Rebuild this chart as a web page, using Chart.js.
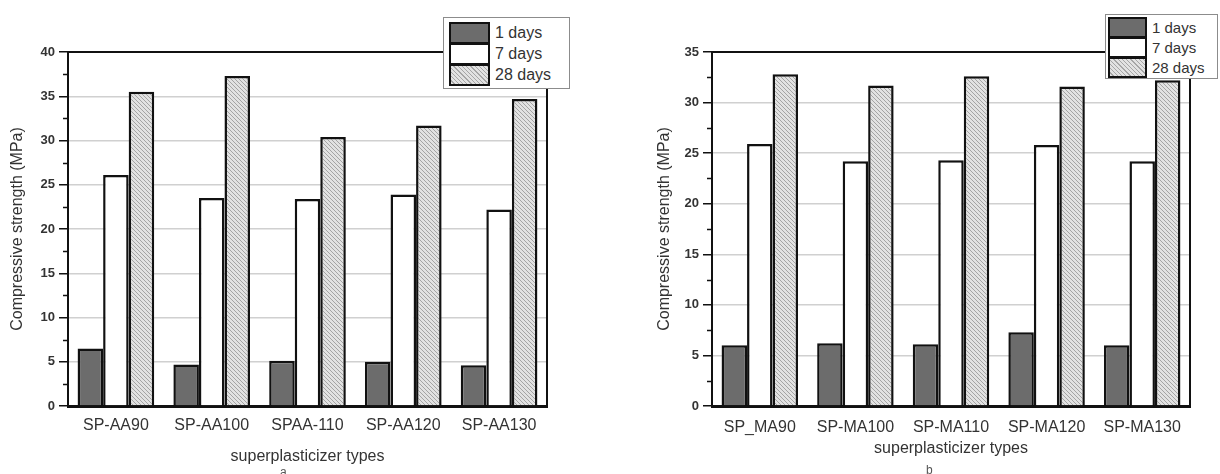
<!DOCTYPE html>
<html lang="en">
<head>
<meta charset="UTF-8">
<title>Compressive strength vs superplasticizer type</title>
<script src="https://cdn.jsdelivr.net/npm/chart.js"></script>
<style>
    body {
        margin: 0;
        width: 1220px;
        height: 474px;
        overflow: hidden;
        background: #fff;
        position: relative;
        font-family: "Liberation Sans", Arial, sans-serif;
    }
    canvas { position: absolute; top: 0; }
    #chartA { left: 0; }
    #chartB { left: 640px; }
    .legend {
        position: absolute;
        box-sizing: border-box;
        background: #fff;
        border: 1px solid #8c8c8c;
        color: #333;
    }
    .legend .sw {
        position: absolute;
        box-sizing: border-box;
        border: 2px solid #111;
    }
    .legend .txt {
        position: absolute;
        white-space: nowrap;
        line-height: 1;
    }
    .s1 { background: #6c6c6c; }
    .s7 { background: #fff; }
    .s28 { background: repeating-linear-gradient(45deg, #e2e2e2 0 2px, #a6a6a6 2px 3px); }
    .panel-tag {
        position: absolute;
        font-size: 12px;
        color: #555;
    }
</style>
</head>
<body>
<canvas id="chartA" width="600" height="474"></canvas>
<canvas id="chartB" width="580" height="474"></canvas>

<div class="legend" style="left:443px; top:17px; width:127px; height:72px; font-size:16px;">
    <div class="sw s1"  style="left:5px; top:4px;  width:41px; height:22px;"></div>
    <div class="sw s7"  style="left:5px; top:25px; width:41px; height:22px;"></div>
    <div class="sw s28" style="left:5px; top:46px; width:41px; height:22px;"></div>
    <div class="txt" style="left:51px; top:7px;">1 days</div>
    <div class="txt" style="left:51px; top:28px;">7 days</div>
    <div class="txt" style="left:51px; top:49px;">28 days</div>
</div>

<div class="legend" style="left:1105px; top:14px; width:113px; height:65px; font-size:15px;">
    <div class="sw s1"  style="left:2px; top:2px;  width:39px; height:21px;"></div>
    <div class="sw s7"  style="left:2px; top:22px; width:39px; height:21px;"></div>
    <div class="sw s28" style="left:2px; top:42px; width:39px; height:21px;"></div>
    <div class="txt" style="left:46px; top:5px;">1 days</div>
    <div class="txt" style="left:46px; top:25px;">7 days</div>
    <div class="txt" style="left:46px; top:45px;">28 days</div>
</div>

<div class="panel-tag" style="left:280px; top:465px;">a</div>
<div class="panel-tag" style="left:926px; top:463px;">b</div>

<script>
    // left panel (a)
    const labelsAA = ['SP-AA90', 'SP-AA100', 'SPAA-110', 'SP-AA120', 'SP-AA130'];
    const aa_1d  = [6.5, 4.7, 5.1, 5.0, 4.6];
    const aa_7d  = [26.1, 23.5, 23.4, 23.9, 22.2];
    const aa_28d = [35.5, 37.3, 30.4, 31.7, 34.7];

    // right panel (b)
    const labelsMA = ['SP_MA90', 'SP-MA100', 'SP-MA110', 'SP-MA120', 'SP-MA130'];
    const ma_1d  = [6.0, 6.2, 6.1, 7.3, 6.0];
    const ma_7d  = [25.9, 24.2, 24.3, 25.8, 24.2];
    const ma_28d = [32.8, 31.7, 32.6, 31.6, 32.2];

    const seriesNames = ['1 days', '7 days', '28 days'];

    function hatch() {
        const c = document.createElement('canvas');
        c.width = 4; c.height = 4;
        const g = c.getContext('2d');
        g.fillStyle = '#e2e2e2';
        g.fillRect(0, 0, 4, 4);
        g.strokeStyle = '#a4a4a4';
        g.lineWidth = 1;
        g.beginPath();
        g.moveTo(-1, -1); g.lineTo(5, 5);
        g.moveTo(-1, 3);  g.lineTo(1, 5);
        g.moveTo(3, -1);  g.lineTo(5, 1);
        g.stroke();
        return g.createPattern(c, 'repeat');
    }

    // frame around the plot + minor ticks on the y axis
    const framePlugin = {
        id: 'frame',
        afterDraw(chart) {
            const { ctx, chartArea: a } = chart;
            const y = chart.scales.y;
            ctx.save();
            ctx.strokeStyle = '#111';
            ctx.lineWidth = 2;
            ctx.beginPath();
            ctx.moveTo(a.left, a.top);
            ctx.lineTo(a.right, a.top);
            ctx.lineTo(a.right, a.bottom);
            ctx.stroke();
            ctx.lineWidth = 1.5;
            ctx.beginPath();
            for (let v = 2.5; v < y.max; v += 5) {
                const py = Math.round(y.getPixelForValue(v)) + 0.5;
                ctx.moveTo(a.left - 5, py);
                ctx.lineTo(a.left, py);
            }
            ctx.stroke();
            ctx.restore();
        }
    };

    function makeChart(id, labels, d1, d7, d28, yMax, g) {
        const ctx = document.getElementById(id).getContext('2d');
        const pattern = hatch();
        return new Chart(ctx, {
            type: 'bar',
            data: {
                labels: labels,
                datasets: [
                    { label: seriesNames[0], data: d1, backgroundColor: '#6c6c6c' },
                    { label: seriesNames[1], data: d7, backgroundColor: '#ffffff' },
                    { label: seriesNames[2], data: d28, backgroundColor: pattern }
                ]
            },
            options: {
                responsive: false,
                animation: false,
                layout: { padding: { top: 52, right: g.padRight, left: 0, bottom: 0 } },
                datasets: {
                    bar: {
                        borderColor: '#111',
                        borderWidth: 2.5,
                        barPercentage: 1,
                        categoryPercentage: 0.8
                    }
                },
                plugins: {
                    legend: { display: false },
                    tooltip: { enabled: false }
                },
                scales: {
                    x: {
                        grid: { display: false, drawTicks: false },
                        border: { display: true, color: '#111', width: 3 },
                        ticks: {
                            color: '#333',
                            padding: g.labelPad,
                            maxRotation: 0,
                            autoSkip: false,
                            font: { family: 'Liberation Sans', size: 16 }
                        },
                        title: {
                            display: true,
                            text: 'superplasticizer types',
                            color: '#333',
                            padding: { top: 0, bottom: g.xTitlePad },
                            font: { family: 'Liberation Sans', size: 16 }
                        },
                        afterFit(s) { s.height = 68; }
                    },
                    y: {
                        min: 0,
                        max: yMax,
                        grid: {
                            color: '#d0d0d0',
                            lineWidth: 1.5,
                            tickColor: '#111',
                            tickLength: 9,
                            drawTicks: true
                        },
                        border: { display: true, color: '#111', width: 2 },
                        ticks: {
                            stepSize: 5,
                            color: '#333',
                            padding: 4,
                            font: { family: 'Liberation Sans', size: 13, weight: 'bold' }
                        },
                        title: {
                            display: true,
                            text: 'Compressive strength (MPa)',
                            color: '#333',
                            padding: { top: g.yTitlePad, bottom: 0 },
                            font: { family: 'Liberation Sans', size: 16 }
                        },
                        afterFit(s) { s.width = g.yWidth; }
                    }
                }
            },
            plugins: [framePlugin]
        });
    }

    makeChart('chartA', labelsAA, aa_1d, aa_7d, aa_28d, 40,
        { padRight: 53, yWidth: 68, yTitlePad: 8, xTitlePad: 8, labelPad: 10 });
    makeChart('chartB', labelsMA, ma_1d, ma_7d, ma_28d, 35,
        { padRight: 30, yWidth: 72, yTitlePad: 15, xTitlePad: 16, labelPad: 12 });
</script>
</body>
</html>
